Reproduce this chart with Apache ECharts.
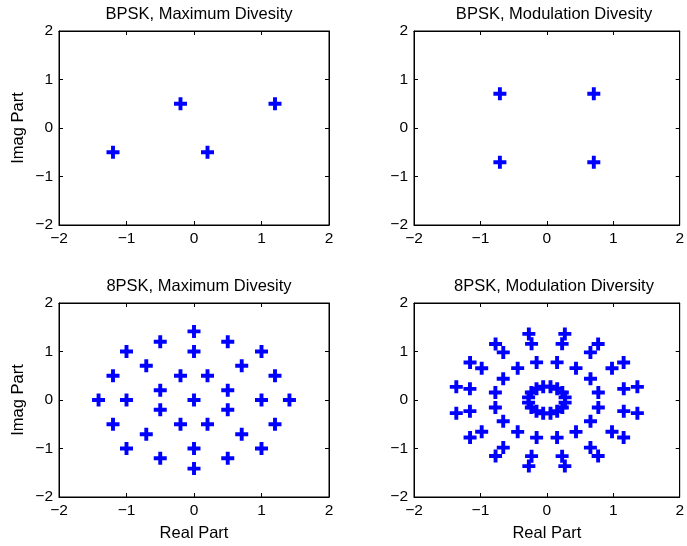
<!DOCTYPE html>
<html>
<head>
<meta charset="utf-8">
<script src="https://cdn.jsdelivr.net/npm/echarts@6/dist/echarts.min.js"></script>
<style>html,body{margin:0;padding:0;background:#fff}#c{width:687px;height:546px}</style>
</head>
<body>
<div id="c"></div>
<script>
// Titles
var titles = ['BPSK, Maximum Divesity', 'BPSK, Modulation Divesity', '8PSK, Maximum Divesity', '8PSK, Modulation Diversity'];
var tickValues = [-2, -1, 0, 1, 2];

// Panel 1: BPSK, Maximum Diversity
var bpskMax = [[-1.2, -0.5], [-0.2, 0.5], [0.2, -0.5], [1.2, 0.5]];
// Panel 2: BPSK, Modulation Diversity
var bpskMod = [[-0.707, 0.707], [0.707, 0.707], [-0.707, -0.707], [0.707, -0.707]];
// Panel 3: 8PSK, Maximum Diversity
var psk8Max = [
  [0, 1.414], [-0.5, 1.2], [0.5, 1.2], [-1, 1], [0, 1], [1, 1],
  [-0.707, 0.707], [0.707, 0.707],
  [-1.2, 0.5], [-0.2, 0.5], [0.2, 0.5], [1.2, 0.5],
  [-0.5, 0.2], [0.5, 0.2],
  [-1.414, 0], [-1, 0], [0, 0], [1, 0], [1.414, 0],
  [-0.5, -0.2], [0.5, -0.2],
  [-1.2, -0.5], [-0.2, -0.5], [0.2, -0.5], [1.2, -0.5],
  [-0.707, -0.707], [0.707, -0.707],
  [-1, -1], [0, -1], [1, -1], [-0.5, -1.2], [0.5, -1.2], [0, -1.414]
];
// Panel 4: 8PSK, Modulation Diversity
var psk8Mod = [
  // inner ring
  [0.275, 0.055], [0.233, 0.156], [0.156, 0.233], [0.055, 0.275],
  [-0.055, 0.275], [-0.156, 0.233], [-0.233, 0.156], [-0.275, 0.055],
  [-0.275, -0.055], [-0.233, -0.156], [-0.156, -0.233], [-0.055, -0.275],
  [0.055, -0.275], [0.156, -0.233], [0.233, -0.156], [0.275, -0.055],
  // middle ring
  [0.775, 0.154], [0.657, 0.439], [0.439, 0.657], [0.154, 0.775],
  [-0.154, 0.775], [-0.439, 0.657], [-0.657, 0.439], [-0.775, 0.154],
  [-0.775, -0.154], [-0.657, -0.439], [-0.439, -0.657], [-0.154, -0.775],
  [0.154, -0.775], [0.439, -0.657], [0.657, -0.439], [0.775, -0.154],
  // ring 3
  [1.158, 0.230], [0.981, 0.656], [0.656, 0.981], [0.230, 1.158],
  [-0.230, 1.158], [-0.656, 0.981], [-0.981, 0.656], [-1.158, 0.230],
  [-1.158, -0.230], [-0.981, -0.656], [-0.656, -0.981], [-0.230, -1.158],
  [0.230, -1.158], [0.656, -0.981], [0.981, -0.656], [1.158, -0.230],
  // outer ring
  [1.363, 0.271], [1.156, 0.772], [0.772, 1.156], [0.271, 1.363],
  [-0.271, 1.363], [-0.772, 1.156], [-1.156, 0.772], [-1.363, 0.271],
  [-1.363, -0.271], [-1.156, -0.772], [-0.772, -1.156], [-0.271, -1.363],
  [0.271, -1.363], [0.772, -1.156], [1.156, -0.772], [1.363, -0.271]
];
var panels = [bpskMax, bpskMod, psk8Max, psk8Mod];

var FONT = 'Liberation Sans, Arial, Helvetica, sans-serif';
var gridPos = [
  {left: 59, top: 31}, {left: 414, top: 31},
  {left: 59, top: 303}, {left: 414, top: 303}
];
var W = 270, H = 194;
var plus = 'path://M3.5,0H6.5V3.5H10V6.5H6.5V10H3.5V6.5H0V3.5H3.5Z';
function fmt(v) { return String(v).replace('-', '\u2212'); }

var option = {
  backgroundColor: '#fff',
  animation: false,
  title: [], grid: [], xAxis: [], yAxis: [], series: []
};
for (var i = 0; i < 4; i++) {
  var g = gridPos[i];
  option.title.push({
    text: titles[i], left: g.left + W / 2, top: g.top - 30, textAlign: 'center',
    textStyle: {fontFamily: FONT, fontSize: 16.5, fontWeight: 'normal', color: '#000'}
  });
  option.grid.push({left: g.left, top: g.top, width: W, height: H, show: true,
    borderColor: '#000', borderWidth: 1, backgroundColor: '#fff'});
  var common = {
    type: 'value', min: -2, max: 2, interval: 1, gridIndex: i,
    splitLine: {show: false},
    axisLine: {show: true, onZero: false, lineStyle: {color: '#000', width: 1}},
    axisTick: {show: true, inside: true, length: 4, lineStyle: {color: '#000'}}
  };
  var bottomRow = i >= 2, leftCol = (i % 2 === 0);
  option.xAxis.push(Object.assign({}, common, {
    position: 'bottom',
    axisLabel: {show: true, formatter: fmt, fontFamily: FONT, fontSize: 15.5, color: '#000', margin: 6},
    name: bottomRow ? 'Real Part' : '', nameLocation: 'middle', nameGap: 28,
    nameTextStyle: {fontFamily: FONT, fontSize: 16.5, color: '#000'}
  }));
  option.xAxis.push(Object.assign({}, common, {position: 'top', axisLabel: {show: false}}));
  option.yAxis.push(Object.assign({}, common, {
    position: 'left',
    axisLabel: {show: true, formatter: fmt, fontFamily: FONT, fontSize: 15.5, color: '#000', margin: 6},
    name: leftCol ? 'Imag Part' : '', nameLocation: 'middle', nameGap: 32,
    nameTextStyle: {fontFamily: FONT, fontSize: 16.5, color: '#000'}
  }));
  option.yAxis.push(Object.assign({}, common, {position: 'right', axisLabel: {show: false}}));
  option.series.push({
    type: 'scatter', xAxisIndex: 2 * i, yAxisIndex: 2 * i,
    data: panels[i], symbol: plus, symbolSize: 13,
    itemStyle: {color: '#0000ff', opacity: 1}
  });
}
var chart = echarts.init(document.getElementById('c'), null, {renderer: 'canvas'});
chart.setOption(option);
</script>
</body>
</html>
